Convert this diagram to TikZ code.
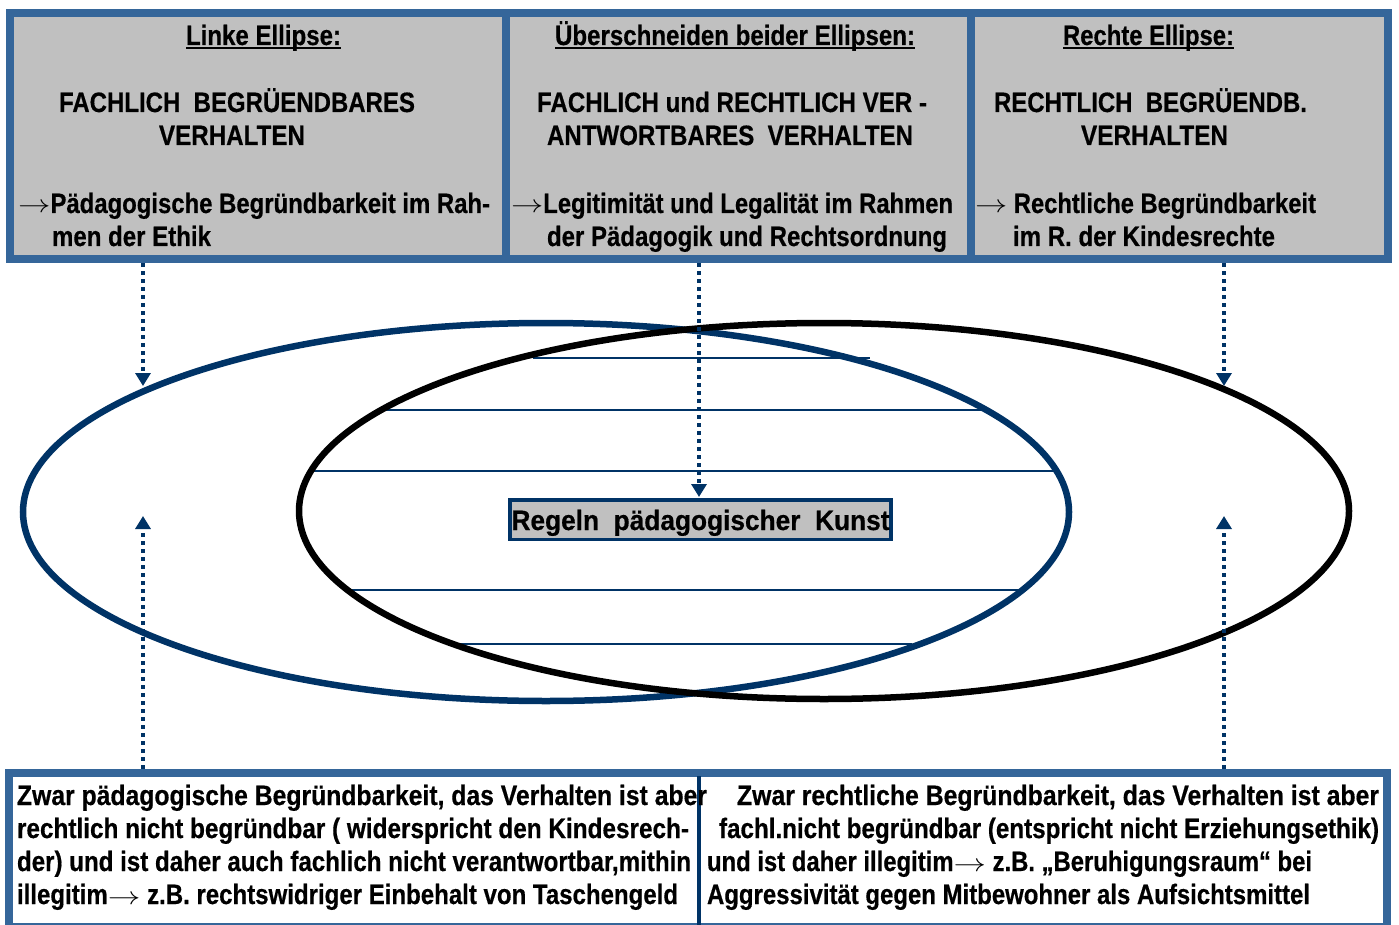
\documentclass[tikz,border=0pt]{standalone}
\usepackage{fontspec}
\setmainfont{Liberation Sans}[FakeStretch=0.85, BoldFeatures={FakeBold=0.5}]
\usepackage{graphicx}
\usetikzlibrary{arrows.meta,calc}
\definecolor{frameblue}{HTML}{35669A}
\definecolor{navy}{HTML}{003366}
\definecolor{cellgray}{HTML}{C0C0C0}
\newcommand\fitl[2]{\resizebox{#1pt}{\height}{#2}}
\newcommand\ulfit[2]{\setbox0\hbox{\resizebox{#1pt}{\height}{#2}}\rlap{\rule[-4.5pt]{\wd0}{2pt}}\box0}
\newcommand\arr{\mbox{\scalebox{1.3}[1]{$\rightarrow$}}}
\begin{document}
\begin{tikzpicture}[x=1pt,y=-1pt,
  font=\bfseries\fontsize{28}{33}\selectfont,
  txt/.style={anchor=base west, inner sep=0pt, outer sep=0pt},
  cell/.style={draw=frameblue, line width=8pt, fill=cellgray, inner sep=0pt},
  conn/.style={navy, line width=3.5pt, dash pattern=on 4pt off 4pt, -{Triangle[width=15pt,length=13pt]}},
  hatch/.style={navy, line width=2pt},
  ell/.style={line width=6.5pt}]
\useasboundingbox (0,0) rectangle (1399,925);

% top cells
\node[cell, minimum width=496pt, minimum height=246pt] (c1) at (258,136) {};
\node[cell, minimum width=465pt, minimum height=246pt] (c2) at (738.5,136) {};
\node[cell, minimum width=417pt, minimum height=246pt] (c3) at (1179.5,136) {};

% texts cell 1
\node[txt] (t1a) at (186,45) {\ulfit{155}{Linke Ellipse:}};
\node[txt] (t1b) at (59,112) {\fitl{356}{FACHLICH~~BEGRÜENDBARES}};
\node[txt] (t1c) at (159,145) {\fitl{146}{VERHALTEN}};
\node[txt] (t1d) at (18,213) {\fitl{472}{\arr Pädagogische Begründbarkeit im Rah-}};
\node[txt] (t1e) at (52,246) {\fitl{159}{men der Ethik}};

% texts cell 2
\node[txt] (t2a) at (555,45) {\ulfit{360}{Überschneiden beider Ellipsen:}};
\node[txt] (t2b) at (537,112) {\fitl{390}{FACHLICH und RECHTLICH VER -}};
\node[txt] (t2c) at (547,145) {\fitl{366}{ANTWORTBARES~~VERHALTEN}};
\node[txt] (t2d) at (511,213) {\fitl{442}{\arr Legitimität und Legalität im Rahmen}};
\node[txt] (t2e) at (547,246) {\fitl{400}{der Pädagogik und Rechtsordnung}};

% texts cell 3
\node[txt] (t3a) at (1063,45) {\ulfit{171}{Rechte Ellipse:}};
\node[txt] (t3b) at (994,112) {\fitl{313}{RECHTLICH~~BEGRÜENDB.}};
\node[txt] (t3c) at (1081,145) {\fitl{147}{VERHALTEN}};
\node[txt] (t3d) at (975,213) {\fitl{341}{\arr{} Rechtliche Begründbarkeit}};
\node[txt] (t3e) at (1013,246) {\fitl{262}{im R. der Kindesrechte}};

% hatching of the intersection
\draw[hatch] (533,358) -- (870,358);
\draw[hatch] (384,410) -- (985,410);
\draw[hatch] (310,471) -- (1058,471);
\draw[hatch] (350,590) -- (1022,590);
\draw[hatch] (450,644) -- (912,644);

% ellipses
\draw[ell, navy] (546,512) ellipse [x radius=523pt, y radius=189pt];
\draw[ell, black] (824,511) ellipse [x radius=525pt, y radius=188pt];

% centre node
\node[draw=navy, line width=3.5pt, fill=cellgray, inner sep=0pt,
      minimum width=381pt, minimum height=39.5pt,
      text height=26pt, text depth=5pt] (kunst) at (700.5,519.5)
      {\fitl{378}{Regeln~~pädagogischer~~Kunst}};

% bottom frame
\node[draw=frameblue, line width=8pt, inner sep=0pt,
      minimum width=1378pt, minimum height=154.5pt] (bf) at (698,849.75) {};
\draw[navy, line width=3.5pt] (699,776) -- (699,925);

% bottom left texts
\node[txt] (b1a) at (17,805) {\fitl{690}{Zwar pädagogische Begründbarkeit, das Verhalten ist aber}};
\node[txt] (b1b) at (17,838) {\fitl{672}{rechtlich nicht begründbar ( widerspricht den Kindesrech-}};
\node[txt] (b1c) at (17,871) {\fitl{674}{der) und ist daher auch fachlich nicht verantwortbar,mithin}};
\node[txt] (b1d) at (17,904) {\fitl{661}{illegitim\arr{} z.B. rechtswidriger Einbehalt von Taschengeld}};

% bottom right texts
\node[txt] (b2a) at (737,805) {\fitl{642}{Zwar rechtliche Begründbarkeit, das Verhalten ist aber}};
\node[txt] (b2b) at (719,838) {\fitl{660}{fachl.nicht begründbar (entspricht nicht Erziehungsethik)}};
\node[txt] (b2c) at (707,871) {\fitl{605}{und ist daher illegitim\arr{} z.B. „Beruhigungsraum“ bei}};
\node[txt] (b2d) at (707,904) {\fitl{603}{Aggressivität gegen Mitbewohner als Aufsichtsmittel}};

% connectors
\coordinate (tl) at (143,386);
\coordinate (tm) at (699,497);
\coordinate (tr) at (1224,386);
\coordinate (bl) at (143,516);
\coordinate (br) at (1224,516);
\draw[conn] (c1.south -| tl) -- (tl);
\draw[conn] (c2.south -| tm) -- (tm);
\draw[conn] (c3.south -| tr) -- (tr);
\draw[conn] (bf.north -| bl) -- (bl);
\draw[conn] (bf.north -| br) -- (br);
\end{tikzpicture}
\end{document}
